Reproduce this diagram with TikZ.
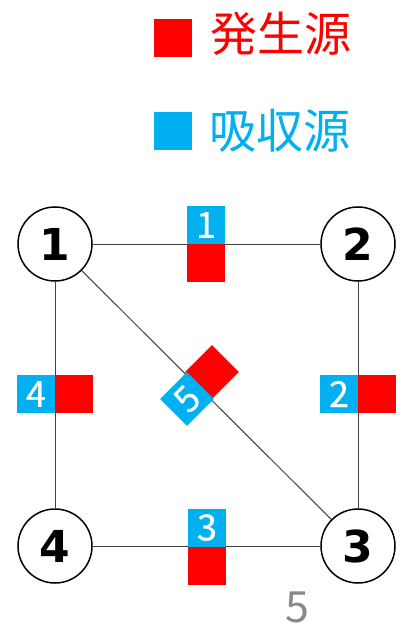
\documentclass[tikz,border=0pt]{standalone}
\usepackage{fontspec}
\newfontfamily\cjk{Noto Sans CJK JP}
\newfontfamily\cjkdigit{Noto Sans CJK JP}[FakeBold=0.6]
\newfontfamily\numfont{DejaVu Sans}
\definecolor{myred}{RGB}{255,0,0}
\definecolor{myblue}{RGB}{0,176,240}
\definecolor{pagegray}{RGB}{137,137,137}
\begin{document}
\begin{tikzpicture}[x=1pt,y=-1pt,
  vert/.style={circle,draw,line width=1.5pt,fill=white,minimum size=74pt,inner sep=0pt,font=\numfont\bfseries\fontsize{44}{44}\selectfont},
  gen/.style={fill=myred,minimum size=38pt,inner sep=0pt,draw=none},
  absb/.style={fill=myblue,minimum size=38pt,inner sep=0pt,text=white,font=\cjkdigit\fontsize{36}{36}\selectfont},
  edgeline/.style={line width=1pt,draw=black!75},
  legendtext/.style={font=\cjk\fontsize{47}{47}\selectfont}]
\useasboundingbox (0,0) rectangle (405,628);
% legend
\node[gen] (lg) at (173,38) {};
\node[legendtext,text=myred] (lgt) at (281,34) {発生源};
\node[absb] (lb) at (173,131) {};
\node[legendtext,text=myblue] (lbt) at (280,131) {吸収源};
% vertices
\node[vert] (v1) at (55,244) {1};
\node[vert] (v2) at (358,244) {2};
\node[vert] (v3) at (358,546) {3};
\node[vert] (v4) at (55,546) {4};
% edges
\draw[edgeline] (v1) -- (v2);
\draw[edgeline] (v2) -- (v3);
\draw[edgeline] (v3) -- (v4);
\draw[edgeline] (v4) -- (v1);
\draw[edgeline] (v1) -- (v3);
% sources
\node[absb] (b1) at (206,225) {1};
\node[gen] (r1) at (206,263) {};
\node[absb] (b2) at (339,394) {2};
\node[gen] (r2) at (377,394) {};
\node[absb] (b3) at (207,527.5) {3};
\node[gen] (r3) at (207,565.5) {};
\node[absb] (b4) at (36,394) {4};
\node[gen] (r4) at (74,394) {};
\node[gen,rotate=45] (r5) at (212,372) {};
\node[absb,rotate=45] (b5) at (187,399) {5};
% page number
\node[text=pagegray,font=\cjk\fontsize{43}{43}\selectfont] (pg) at (297,607) {5};
\end{tikzpicture}
\end{document}
